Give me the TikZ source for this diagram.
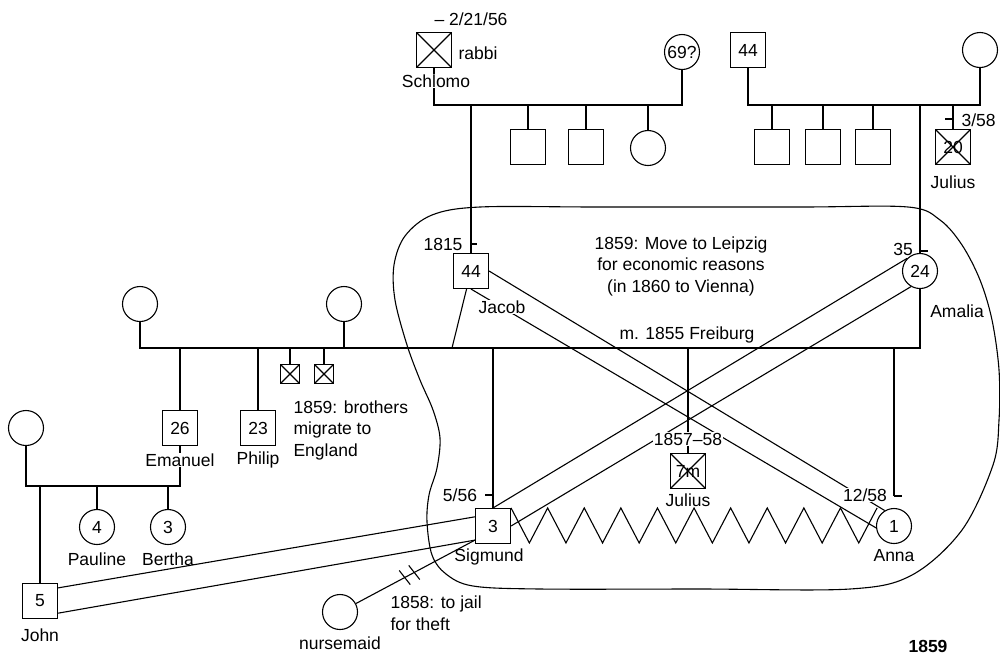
\documentclass[tikz,border=0pt]{standalone}
\usepackage{fontspec}
\setmainfont{Liberation Sans}
\usetikzlibrary{positioning,calc}

\tikzset{
  male/.style={draw, rectangle, minimum size=35pt, inner sep=0pt},
  small/.style={draw, rectangle, minimum size=19pt, inner sep=0pt},
  female/.style={draw, circle, minimum size=35pt, inner sep=0pt},
  dead/.style={path picture={\draw (path picture bounding box.north west) -- (path picture bounding box.south east)
      (path picture bounding box.south west) -- (path picture bounding box.north east);}},
  cover/.style={fill=white, inner sep=1pt},
}

\begin{document}
\begin{tikzpicture}[x=1pt, y=-1pt, line width=1.1pt,
    every node/.style={font=\fontsize{17.5}{21.5}\selectfont, inner sep=1pt}]
\useasboundingbox (0,0) rectangle (1000,654);

% Household boundary
\draw plot[smooth cycle, tension=0.55] coordinates {(600,207) (800,207) (908,207) (940,220)
  (962,245) (980,280) (992,320) (999,370) (999,420) (993,465) (962,530) (912,575) (850,589)
  (700,589) (540,589) (473,586) (446,574) (432,555) (427,522) (429,495) (437,468) (440,438)
  (433,410) (420,380) (407,345) (395,300) (394,265) (405,236) (432,215) (480,207)};

% Sibship lines
\coordinate (top) at (0,105);
\coordinate (mline) at (0,348);
\coordinate (eline) at (0,486);

% Jacob's parents
\node[male, dead] (schlomo) at (434,50) {};
\node[female] (schlomowife) at (682,52) {69?};
\node[male] (jsib1) at (528,147) {};
\node[male] (jsib2) at (586,147) {};
\node[female] (jsib3) at (648,148) {};
\node[male] (jacob) at (471,271) {44};
\draw (schlomo) -- (schlomo |- top) -- (schlomowife |- top) -- (schlomowife);
\foreach \s in {jsib1,jsib2,jsib3,jacob} \draw (\s) -- (\s |- top);

% Amalia's parents
\node[male] (amgf) at (748,50) {44};
\node[female] (amgm) at (980,50) {};
\node[male] (asib1) at (772,147) {};
\node[male] (asib2) at (823,147) {};
\node[male] (asib3) at (873,147) {};
\node[male, dead] (julius1) at (953,147) {20};
\node[female] (amalia) at (920,271) {24};
\draw (amgf) -- (amgf |- top) -- (amgm |- top) -- (amgm);
\foreach \s in {asib1,asib2,asib3,julius1,amalia} \draw (\s) -- (\s |- top);

% Jacob's marriages
\node[female] (wife1) at (140,304) {};
\node[female] (wife2) at (344,304) {};
\node[male] (emanuel) at (180,428) {26};
\node[male] (philip) at (258,428) {23};
\node[small, dead] (dbro1) at (290,374) {};
\node[small, dead] (dbro2) at (324,374) {};
\draw (wife1) -- (wife1 |- mline) -- (amalia |- mline) -- (amalia);
\draw (wife2) -- (wife2 |- mline);
\draw (jacob) -- (452,348);
\foreach \s in {emanuel,philip,dbro1,dbro2} \draw (\s) -- (\s |- mline);

% Jacob and Amalia's children
\node[male] (sigmund) at (493,526) {3};
\node[male, dead] (julius2) at (688,471) {7m};
\node[female] (anna) at (894,526) {1};
\coordinate (annatick) at (894,496);
\draw (sigmund) -- (sigmund |- mline);
\draw (julius2) -- (julius2 |- mline);
\draw (annatick) -- (annatick |- mline);

% Emanuel's family
\node[female] (ewife) at (26,428) {};
\node[male] (john) at (40,601) {5};
\node[female] (pauline) at (97,527) {4};
\node[female] (bertha) at (168,527) {3};
\draw (emanuel) -- (emanuel |- eline) -- (ewife |- eline) -- (ewife);
\foreach \s in {john,pauline,bertha} \draw (\s) -- (\s |- eline);

\node[female] (nurse) at (340,612) {};

% Relationships
\draw (jacob.east) -- (anna.121);
\draw (jacob.south) -- (anna.186);
\draw (amalia.north west) -- (sigmund.north);
\draw (amalia.240) -- (sigmund.east);
\draw (sigmund.153) -- (john.36);
\draw (sigmund.218) -- (john.326);
\draw (sigmund.north east) \foreach \i in {1,...,10} { -- ++(18.3,35) -- ++(18.3,-35) };
\draw (nurse) -- (sigmund.218) coordinate[pos=0.41] (cut1) coordinate[pos=0.49] (cut2);
\draw ($(cut1)!9pt!100:(sigmund.218)$) -- ($(cut1)!9pt!-80:(sigmund.218)$);
\draw ($(cut2)!9pt!100:(sigmund.218)$) -- ($(cut2)!9pt!-80:(sigmund.218)$);

% Dates
\draw ($(jacob.north)+(0,-9)$) -- ++(6,0);
\draw ($(amalia.north)+(0,-2)$) -- ++(8,0);
\draw ($(sigmund.north)+(0,-13)$) -- ++(-8,0);
\draw (annatick) -- ++(8,0);
\draw ($(julius1.north)+(0,-10)$) -- ++(-8,0);
\node (d1) at (471,19) {– 2/21/56};
\node (d2) at (443,244) {1815};
\node (d3) at (903,249) {35};
\node (d4) at (460,495) {5/56};
\node[cover] (d5) at (865,495) {12/58};
\node[anchor=west] (d6) at (960,120) {3/58};
\node[cover] (d7) at (688,439) {1857–58};

% Names
\node[anchor=west] (rabbi) at (457,53) {rabbi};
\node[cover] (nschlomo) at (436,81) {Schlomo};
\node[cover] (njacob) at (502,307) {Jacob};
\node (namalia) at (957,311) {Amalia};
\node (njulius1) at (953,182) {Julius};
\node (njulius2) at (688,500) {Julius};
\node (nanna) at (894,556) {Anna};
\node (nsigmund) at (489,557) {Sigmund};
\node[cover] (nemanuel) at (180,460) {Emanuel};
\node (nphilip) at (258,460) {Philip};
\node (npauline) at (97,559) {Pauline};
\node (nbertha) at (168,559) {Bertha};
\node (njohn) at (40,635) {John};
\node (nnurse) at (340,643) {nursemaid};

% Notes
\node (wed) at (687,335) {m. 1855 Freiburg};
\node[align=center] (move) at (681,266) {1859: Move to Leipzig\\for economic reasons\\(in 1860 to Vienna)};
\node[align=left, anchor=west] (brothers) at (292,430) {1859: brothers\\migrate to\\England};
\node[align=left, anchor=west] (jail) at (389,613) {1858: to jail\\for theft};
\node (year) at (928,646) {\bfseries 1859};

\end{tikzpicture}
\end{document}
